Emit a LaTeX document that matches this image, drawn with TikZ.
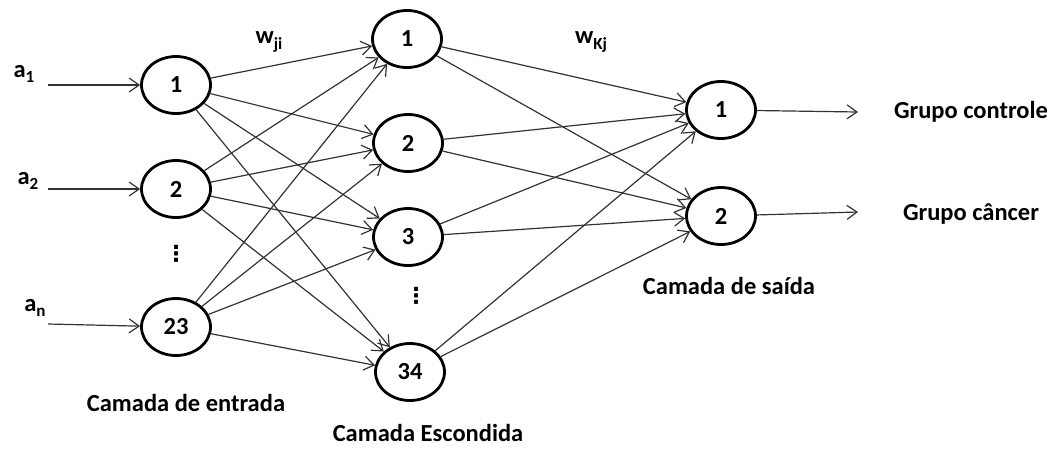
\documentclass[tikz,border=0pt]{standalone}
\usepackage{fontspec}
\setmainfont{Carlito}
\newfontfamily\dejavu{DejaVu Sans}
\usetikzlibrary{shapes.geometric,arrows.meta}
\newcommand\lowsub[1]{\raisebox{-0.45ex}{\fontsize{17}{17}\selectfont #1}}
\begin{document}
\begin{tikzpicture}[x=1pt,y=-1pt,
  neuron/.style={ellipse,draw,line width=2.8pt,minimum width=69pt,minimum height=57pt,inner sep=0pt,font=\fontsize{24.5}{24.5}\selectfont\bfseries},
  lab/.style={font=\fontsize{24.5}{24.5}\selectfont\bfseries,inner sep=0pt},
  vdots/.style={font=\fontsize{22}{22}\selectfont\dejavu\bfseries,inner sep=0pt},
  conn/.style={draw=black!80,line width=1.2pt,-{Straight Barb[length=10pt,width=14pt,line width=1.2pt]}}]
\useasboundingbox (0,0) rectangle (1058,448);
% input layer
\node[neuron] (i1) at (176,85) {1};
\node[neuron] (i2) at (176,189) {2};
\node[neuron] (i3) at (176,327) {23};
% hidden layer
\node[neuron] (h1) at (407,39) {1};
\node[neuron] (h2) at (408,143) {2};
\node[neuron] (h3) at (408,237) {3};
\node[neuron] (h4) at (410,372) {34};
% output layer
\node[neuron] (o1) at (721,110) {1};
\node[neuron] (o2) at (721,216) {2};
% input arrows
\coordinate (s1) at (48,85);
\coordinate (s2) at (48,189);
\coordinate (s3) at (48,324);
\draw[conn] (s1) -- (i1);
\draw[conn] (s2) -- (i2);
\draw[conn] (s3) -- (i3);
\node[lab] (a1) at (24,74) {a\lowsub{1}};
\node[lab] (a2) at (28,181) {a\lowsub{2}};
\node[lab] (an) at (35,308) {a\lowsub{n}};
% input -> hidden
\foreach \i in {i1,i2,i3}{
  \foreach \h in {h1,h2,h3,h4}{
    \draw[conn] (\i) -- (\h);
  }
}
% hidden -> output
\foreach \h in {h1,h2,h3,h4}{
  \foreach \o in {o1,o2}{
    \draw[conn] (\h) -- (\o);
  }
}
% output arrows
\coordinate (e1) at (858,112);
\coordinate (e2) at (858,212);
\draw[conn] (o1) -- (e1);
\draw[conn] (o2) -- (e2);
\node[lab] (g1) at (971,112) {Grupo controle};
\node[lab] (g2) at (971,214) {Grupo câncer};
% dots
\node[vdots] (d1) at (176,254) {⋮};
\node[vdots] (d2) at (416,296) {⋮};
% weights
\node[lab] (wji) at (269,42) {w\lowsub{ji}};
\node[lab] (wkj) at (591,42) {w\lowsub{Kj}};
% layer labels
\node[lab,anchor=base] (l1) at (186,411) {Camada de entrada};
\node[lab,anchor=base] (l2) at (428,441) {Camada Escondida};
\node[lab,anchor=base] (l3) at (729,294) {Camada de saída};
\end{tikzpicture}
\end{document}
